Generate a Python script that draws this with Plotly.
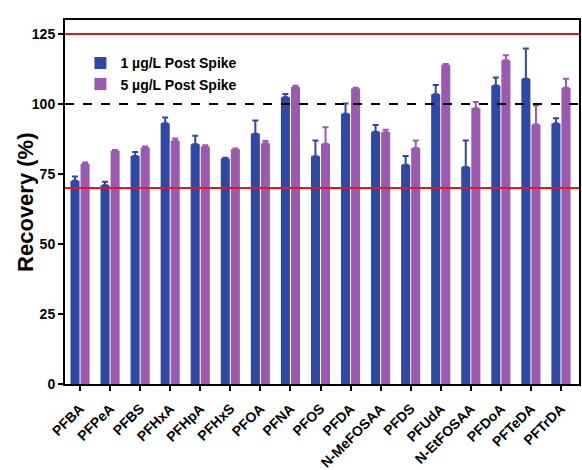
import plotly.graph_objects as go

compounds = ["PFBA", "PFPeA", "PFBS", "PFHxA", "PFHpA", "PFHxS", "PFOA", "PFNA", "PFOS",
             "PFDA", "N-MeFOSAA", "PFDS", "PFUdA", "N-EtFOSAA", "PFDoA", "PFTeDA", "PFTrDA"]

rec_1ug = [72.6, 71.0, 81.4, 93.1, 85.6, 80.5, 89.4, 102.4, 81.3,
           96.5, 90.1, 78.3, 103.5, 77.5, 106.6, 109.0, 93.0]
err_1ug = [1.5, 1.2, 1.5, 2.1, 3.1, 0.3, 4.7, 1.2, 5.7,
           3.7, 2.4, 3.1, 3.3, 9.5, 2.9, 10.8, 1.9]

rec_5ug = [78.7, 83.3, 84.5, 86.9, 84.8, 83.8, 86.0, 106.1, 85.8,
           105.5, 89.9, 84.3, 114.0, 98.5, 115.6, 92.7, 105.8]
err_5ug = [0.4, 0.3, 0.3, 0.8, 0.5, 0.3, 0.8, 0.4, 5.9,
           0.3, 0.9, 2.7, 0.3, 2.2, 1.8, 6.8, 3.2]

series_names = ["1 \u00b5g/L Post Spike", "5 \u00b5g/L Post Spike"]
colors = ["#2f48a4", "#9c59b0"]

limit_low, limit_high, target = 70, 125, 100

fig = go.Figure()
for name, vals, errs, col in zip(series_names, [rec_1ug, rec_5ug], [err_1ug, err_5ug], colors):
    fig.add_trace(go.Bar(
        x=compounds, y=vals, name=name,
        marker=dict(color=col, line=dict(width=0)),
        error_y=dict(type="data", array=errs, arrayminus=[0] * len(errs), symmetric=False,
                     color=col, thickness=2, width=3),
    ))

# acceptance limits and the 100 % target
fig.add_hline(y=limit_high, line=dict(color="#e8161b", width=2))
fig.add_hline(y=limit_low, line=dict(color="#e8161b", width=2))
fig.add_hline(y=target, line=dict(color="black", width=2, dash="dash"))

font_family = "Arial, Liberation Sans, sans-serif"

# y-axis title placed as a rotated annotation so it can sit close to the tick labels
fig.add_annotation(
    text="Recovery (%)", textangle=-90, showarrow=False,
    xref="paper", yref="paper", x=-0.078, y=0.5, xanchor="center", yanchor="middle",
    font=dict(size=22, weight="bold", family=font_family, color="black"),
)

fig.update_layout(
    width=582, height=470,
    margin=dict(l=65, r=3, t=20, b=86),
    plot_bgcolor="white", paper_bgcolor="white",
    barmode="group", bargap=0.33, bargroupgap=0.1,
    font=dict(family=font_family, color="black"),
    showlegend=True,
    legend=dict(x=0.03, y=0.925, xanchor="left", yanchor="top",
                bgcolor="rgba(0,0,0,0)", font=dict(size=14, family=font_family, weight="bold"),
                tracegroupgap=0, itemwidth=30),
)

fig.update_xaxes(
    range=[-0.5, 16.6], showline=True, linecolor="black", linewidth=2, mirror=True,
    ticks="outside", ticklen=5, tickwidth=1.5, tickcolor="black", ticklabelstandoff=4,
    tickangle=-45, tickfont=dict(size=14, weight="bold"), showgrid=False, automargin=False,
)
fig.update_yaxes(
    range=[0, 130], tickvals=[0, 25, 50, 75, 100, 125],
    showline=True, linecolor="black", linewidth=2, mirror=True,
    ticks="outside", ticklen=5, tickwidth=1.5, tickcolor="black",
    tickfont=dict(size=14, weight="bold"), showgrid=False, zeroline=False, automargin=False,
)

fig.write_html("out.html")
